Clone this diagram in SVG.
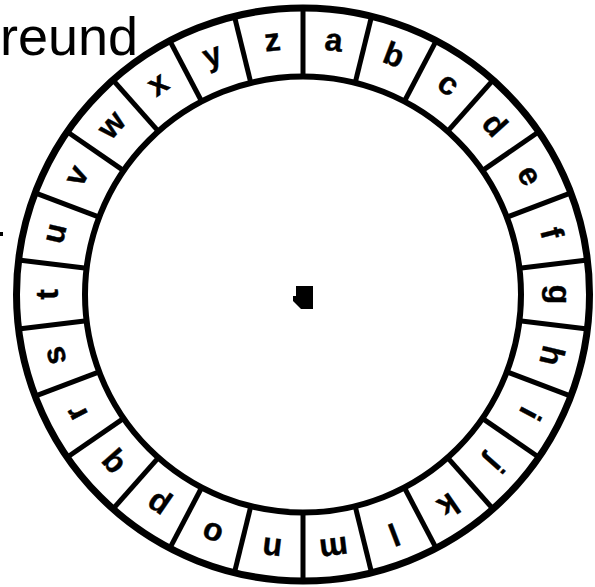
<svg xmlns="http://www.w3.org/2000/svg" width="595" height="587" viewBox="0 0 595 587">
<style>
.ring{fill:none;stroke:#000}
.div line{stroke:#000;stroke-width:5}
.lt{font-family:"Liberation Sans",Arial,sans-serif;font-size:32px;font-weight:bold;fill:#000;stroke:#000;stroke-width:0.4;text-anchor:middle}
.title{font-family:"Liberation Sans",Arial,sans-serif;font-size:54px;fill:#000}
</style>
<rect width="595" height="587" fill="#fff"/>
<text id="title" class="title" x="0" y="55">reund</text>
<rect id="mark" x="0" y="232" width="3" height="4" fill="#000"/>
<g id="wheel">
<circle class="ring" cx="303" cy="294.5" r="286.5" stroke-width="7"/>
<circle class="ring" cx="303" cy="294.5" r="218" stroke-width="6"/>
</g>
<g id="connectors" class="div">
<line x1="303" y1="76.5" x2="303" y2="8" transform="rotate(0 303 294.5)"/>
<line x1="303" y1="76.5" x2="303" y2="8" transform="rotate(13.846 303 294.5)"/>
<line x1="303" y1="76.5" x2="303" y2="8" transform="rotate(27.692 303 294.5)"/>
<line x1="303" y1="76.5" x2="303" y2="8" transform="rotate(41.538 303 294.5)"/>
<line x1="303" y1="76.5" x2="303" y2="8" transform="rotate(55.385 303 294.5)"/>
<line x1="303" y1="76.5" x2="303" y2="8" transform="rotate(69.231 303 294.5)"/>
<line x1="303" y1="76.5" x2="303" y2="8" transform="rotate(83.077 303 294.5)"/>
<line x1="303" y1="76.5" x2="303" y2="8" transform="rotate(96.923 303 294.5)"/>
<line x1="303" y1="76.5" x2="303" y2="8" transform="rotate(110.769 303 294.5)"/>
<line x1="303" y1="76.5" x2="303" y2="8" transform="rotate(124.615 303 294.5)"/>
<line x1="303" y1="76.5" x2="303" y2="8" transform="rotate(138.462 303 294.5)"/>
<line x1="303" y1="76.5" x2="303" y2="8" transform="rotate(152.308 303 294.5)"/>
<line x1="303" y1="76.5" x2="303" y2="8" transform="rotate(166.154 303 294.5)"/>
<line x1="303" y1="76.5" x2="303" y2="8" transform="rotate(180 303 294.5)"/>
<line x1="303" y1="76.5" x2="303" y2="8" transform="rotate(193.846 303 294.5)"/>
<line x1="303" y1="76.5" x2="303" y2="8" transform="rotate(207.692 303 294.5)"/>
<line x1="303" y1="76.5" x2="303" y2="8" transform="rotate(221.538 303 294.5)"/>
<line x1="303" y1="76.5" x2="303" y2="8" transform="rotate(235.385 303 294.5)"/>
<line x1="303" y1="76.5" x2="303" y2="8" transform="rotate(249.231 303 294.5)"/>
<line x1="303" y1="76.5" x2="303" y2="8" transform="rotate(263.077 303 294.5)"/>
<line x1="303" y1="76.5" x2="303" y2="8" transform="rotate(276.923 303 294.5)"/>
<line x1="303" y1="76.5" x2="303" y2="8" transform="rotate(290.769 303 294.5)"/>
<line x1="303" y1="76.5" x2="303" y2="8" transform="rotate(304.615 303 294.5)"/>
<line x1="303" y1="76.5" x2="303" y2="8" transform="rotate(318.462 303 294.5)"/>
<line x1="303" y1="76.5" x2="303" y2="8" transform="rotate(332.308 303 294.5)"/>
<line x1="303" y1="76.5" x2="303" y2="8" transform="rotate(346.154 303 294.5)"/>
</g>
<g id="letters">
<g id="la" transform="rotate(6.923 303 294.5)"><text class="lt" x="303" y="49">a</text></g>
<g id="lb" transform="rotate(20.769 303 294.5)"><text class="lt" x="303" y="49">b</text></g>
<g id="lc" transform="rotate(34.615 303 294.5)"><text class="lt" x="303" y="49">c</text></g>
<g id="ld" transform="rotate(48.462 303 294.5)"><text class="lt" x="303" y="49">d</text></g>
<g id="le" transform="rotate(62.308 303 294.5)"><text class="lt" x="303" y="49">e</text></g>
<g id="lf" transform="rotate(76.154 303 294.5)"><text class="lt" x="303" y="49">f</text></g>
<g id="lg" transform="rotate(90 303 294.5)"><text class="lt" x="303" y="49">g</text></g>
<g id="lh" transform="rotate(103.846 303 294.5)"><text class="lt" x="303" y="49">h</text></g>
<g id="li" transform="rotate(117.692 303 294.5)"><text class="lt" x="303" y="49">i</text></g>
<g id="lj" transform="rotate(131.538 303 294.5)"><text class="lt" x="303" y="49">j</text></g>
<g id="lk" transform="rotate(145.385 303 294.5)"><text class="lt" x="303" y="49">k</text></g>
<g id="ll" transform="rotate(159.231 303 294.5)"><text class="lt" x="303" y="49">l</text></g>
<g id="lm" transform="rotate(173.077 303 294.5)"><text class="lt" x="303" y="49">m</text></g>
<g id="ln" transform="rotate(186.923 303 294.5)"><text class="lt" x="303" y="49">n</text></g>
<g id="lo" transform="rotate(200.769 303 294.5)"><text class="lt" x="303" y="49">o</text></g>
<g id="lp" transform="rotate(214.615 303 294.5)"><text class="lt" x="303" y="49">p</text></g>
<g id="lq" transform="rotate(228.462 303 294.5)"><text class="lt" x="303" y="49">q</text></g>
<g id="lr" transform="rotate(242.308 303 294.5)"><text class="lt" x="303" y="49">r</text></g>
<g id="ls" transform="rotate(256.154 303 294.5)"><text class="lt" x="303" y="49">s</text></g>
<g id="lt" transform="rotate(270 303 294.5)"><text class="lt" x="303" y="49">t</text></g>
<g id="lu" transform="rotate(283.846 303 294.5)"><text class="lt" x="303" y="49">u</text></g>
<g id="lv" transform="rotate(297.692 303 294.5)"><text class="lt" x="303" y="49">v</text></g>
<g id="lw" transform="rotate(311.538 303 294.5)"><text class="lt" x="303" y="49">w</text></g>
<g id="lx" transform="rotate(325.385 303 294.5)"><text class="lt" x="303" y="49">x</text></g>
<g id="ly" transform="rotate(339.231 303 294.5)"><text class="lt" x="303" y="49">y</text></g>
<g id="lz" transform="rotate(353.077 303 294.5)"><text class="lt" x="303" y="49">z</text></g>
</g>
<path id="hub" d="M296,286 H313 V309 H301 L293,301 V296 H296 Z" fill="#000"/>
</svg>
